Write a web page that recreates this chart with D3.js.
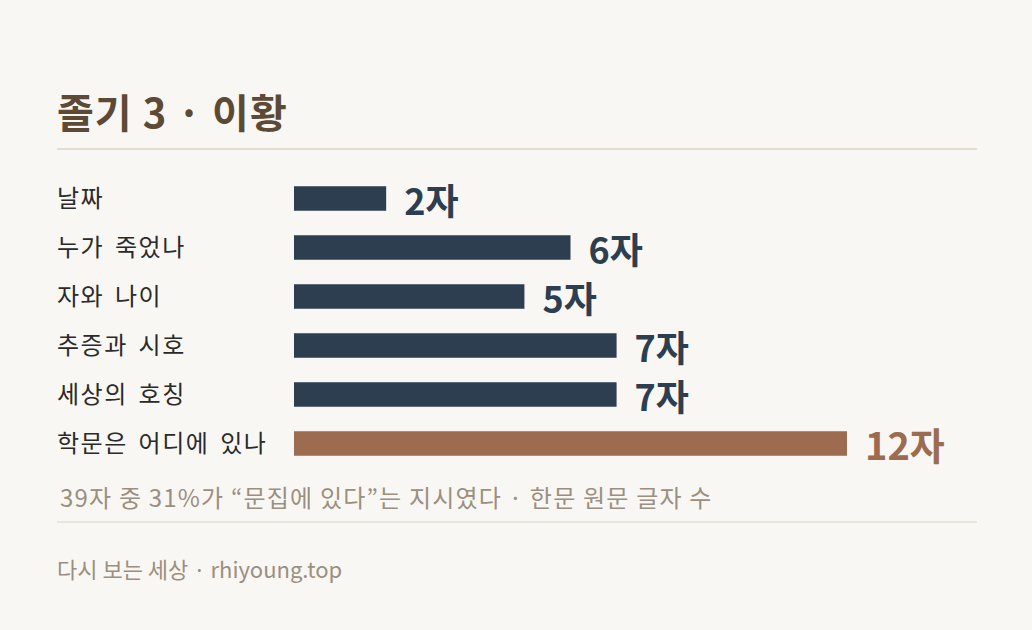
<!DOCTYPE html>
<html>
<head>
<meta charset="utf-8">
<script src="https://cdn.jsdelivr.net/npm/d3@7"></script>
<style>
  body { margin: 0; background: #f9f7f3; }
  svg text { font-family: "Noto Sans CJK KR", "Noto Sans", sans-serif; }
</style>
</head>
<body>
<script>
// data
var categories = ["날짜", "누가 죽었나", "자와 나이", "추증과 시호", "세상의 호칭", "학문은 어디에 있나"];
var counts = [2, 6, 5, 7, 7, 12];
var highlight = [false, false, false, false, false, true];
var unit = "자";

var title = "졸기 3 · 이황";
var note = "39자 중 31%가 “문집에 있다”는 지시였다 · 한문 원문 글자 수";
var footer = "다시 보는 세상 · rhiyoung.top";

var width = 1032, height = 630;

var svg = d3.select("body").append("svg")
    .attr("width", width)
    .attr("height", height);

svg.append("rect").attr("width", width).attr("height", height).attr("fill", "#f9f7f3");

// title
svg.append("text").text(title)
    .attr("x", 57).attr("y", 128)
    .attr("font-size", "40px").attr("font-weight", "bold")
    .attr("letter-spacing", "1px")
    .attr("fill", "#5c4a36");

svg.append("line")
    .attr("x1", 57).attr("x2", 977).attr("y1", 149).attr("y2", 149)
    .attr("stroke", "#ddd5c5").attr("stroke-width", 1.5);

// scales
var x = d3.scaleLinear().domain([0, 12]).range([294, 847]);
var y = d3.scaleBand().domain(categories).range([174, 468]).paddingInner(0.5).paddingOuter(0.25);

var rows = categories.map(function(c, i) {
    return { name: c, value: counts[i], hi: highlight[i] };
});

// category labels
svg.selectAll(".label").data(rows).enter().append("text")
    .attr("class", "label")
    .text(function(d) { return d.name; })
    .attr("x", 57)
    .attr("y", function(d) { return y(d.name) + y.bandwidth() / 2; })
    .attr("dy", "0.35em")
    .attr("font-size", "24px")
    .attr("letter-spacing", "1.5px")
    .attr("word-spacing", "4px")
    .attr("fill", "#2a2a2a");

// bars
svg.selectAll(".bar").data(rows).enter().append("rect")
    .attr("class", "bar")
    .attr("x", x(0))
    .attr("y", function(d) { return y(d.name); })
    .attr("width", function(d) { return x(d.value) - x(0); })
    .attr("height", y.bandwidth())
    .attr("fill", function(d) { return d.hi ? "#9c6b50" : "#2d3e50"; });

// value labels
svg.selectAll(".val").data(rows).enter().append("text")
    .attr("class", "val")
    .text(function(d) { return d.value + unit; })
    .attr("x", function(d) { return x(d.value) + 18; })
    .attr("y", function(d) { return y(d.name) + y.bandwidth() / 2 + 16; })
    .attr("font-size", function(d) { return d.hi ? "38px" : "36px"; })
    .attr("font-weight", "bold")
    .attr("fill", function(d) { return d.hi ? "#9c6b50" : "#2d3e50"; });

// note
svg.append("text").text(note)
    .attr("x", 60).attr("y", 507)
    .attr("font-size", "24px")
    .attr("letter-spacing", "1.2px")
    .attr("fill", "#9a8f80");

svg.append("line")
    .attr("x1", 57).attr("x2", 977).attr("y1", 522).attr("y2", 522)
    .attr("stroke", "#ddd5c5").attr("stroke-width", 1);

svg.append("text").text(footer)
    .attr("x", 57).attr("y", 578)
    .attr("font-size", "22px")
    .attr("fill", "#9a8f80");
</script>
</body>
</html>
